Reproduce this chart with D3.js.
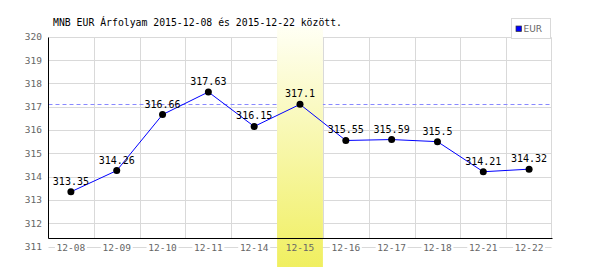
<!DOCTYPE html>
<html><head><meta charset="utf-8">
<script src="https://cdn.jsdelivr.net/npm/d3@7"></script>
<style>html,body{margin:0;padding:0;background:#fff;}svg{display:block;}</style>
</head><body>
<svg id="c" width="600" height="270"></svg>
<script>
const title = "MNB EUR Árfolyam 2015-12-08 és 2015-12-22 között.";
const categories = ["12-08","12-09","12-10","12-11","12-14","12-15","12-16","12-17","12-18","12-21","12-22"];
const values = [313.35,314.26,316.66,317.63,316.15,317.1,315.55,315.59,315.5,314.21,314.32];
const yTicks = [311,312,313,314,315,316,317,318,319,320];
const seriesName = "EUR";
const highlightCat = "12-15";
const refValue = 317.1;

const svg = d3.select("#c");
const mono = "'DejaVu Sans Mono', monospace";
const x = d3.scaleBand().domain(categories).range([48, 552]);
const y = d3.scaleLinear().domain([311, 320]).range([246.6, 36.7]);
const px = v => Math.round(v) + 0.5;
const plotTop = px(y(320)), plotBottom = 238.5, left = 48.5, right = 551.5;

const defs = svg.append("defs");
const g = defs.append("linearGradient").attr("id","hl").attr("x1",0).attr("y1",0).attr("x2",0).attr("y2",1);
g.append("stop").attr("offset","0%").attr("stop-color","#fffff4");
g.append("stop").attr("offset","100%").attr("stop-color","#f0ef60");

// grid
const grid = svg.append("g");
yTicks.filter(t => t > 311).forEach(t => {
  grid.append("line").attr("x1", left).attr("x2", right).attr("y1", px(y(t))).attr("y2", px(y(t)))
    .attr("stroke", "#d9d9d9");
});
categories.forEach((c, i) => {
  if (i === 0) return;
  grid.append("line").attr("x1", px(x(c))).attr("x2", px(x(c))).attr("y1", plotTop).attr("y2", plotBottom)
    .attr("stroke", "#d9d9d9");
});
grid.append("line").attr("x1", right).attr("x2", right).attr("y1", plotTop).attr("y2", plotBottom).attr("stroke","#d9d9d9");
// 311 line under labels
grid.append("line").attr("x1", left).attr("x2", right).attr("y1", px(y(311))).attr("y2", px(y(311))).attr("stroke","#d9d9d9");

// reference dashed line
svg.append("line").attr("x1", left).attr("x2", right).attr("y1", px(y(refValue))).attr("y2", px(y(refValue)))
  .attr("stroke", "#8888ff").attr("stroke-dasharray", "4,3");

// x label white backgrounds
const xl = svg.append("g");
categories.forEach(c => {
  const cx = x(c) + x.bandwidth()/2;
  xl.append("rect").attr("x", cx - 16).attr("y", 241).attr("width", 32).attr("height", 12).attr("fill", "#fff");
});

// highlight column
svg.append("rect").attr("x", x(highlightCat)).attr("y", 27).attr("width", x.bandwidth()).attr("height", 240)
  .attr("fill", "url(#hl)");

// x labels
categories.forEach(c => {
  const cx = x(c) + x.bandwidth()/2;
  svg.append("text").attr("x", cx).attr("y", 251).attr("text-anchor", "middle")
    .attr("font-family", mono).attr("font-size", 9.5).attr("fill", "#666").text(c);
});

// y labels
yTicks.forEach(t => {
  svg.append("text").attr("x", 42).attr("y", y(t) + 3.5).attr("text-anchor", "end")
    .attr("font-family", mono).attr("font-size", 9.5).attr("fill", "#666").text(t);
});

// axes
svg.append("line").attr("x1", left).attr("x2", left).attr("y1", plotTop).attr("y2", plotBottom).attr("stroke", "#000");
svg.append("line").attr("x1", left).attr("x2", right + 1).attr("y1", plotBottom).attr("y2", plotBottom).attr("stroke", "#000");

// data line
const pts = categories.map((c, i) => [x(c) + x.bandwidth()/2, y(values[i])]);
svg.append("path").attr("d", d3.line()(pts)).attr("fill", "none").attr("stroke", "#0000ff").attr("stroke-width", 1);
svg.append("g").selectAll("circle").data(pts).join("circle")
  .attr("cx", d => d[0]).attr("cy", d => d[1]).attr("r", 3.5).attr("fill", "#000");
svg.append("g").selectAll("text").data(values).join("text")
  .attr("x", (d, i) => pts[i][0]).attr("y", (d, i) => pts[i][1] - 7).attr("text-anchor", "middle")
  .attr("font-family", mono).attr("font-size", 10).attr("fill", "#000").text(d => d);

// title
svg.append("text").attr("x", 53).attr("y", 26).attr("font-family", mono).attr("font-size", 9.8)
  .attr("fill", "#000").text(title);

// legend
svg.append("rect").attr("x", 511.5).attr("y", 18.5).attr("width", 39).attr("height", 20)
  .attr("fill", "#fff").attr("stroke", "#d9d9d9");
svg.append("rect").attr("x", 516).attr("y", 26).attr("width", 5.5).attr("height", 5.5)
  .attr("fill", "#0000ff").attr("stroke", "#333").attr("stroke-width", 0.7);
svg.append("text").attr("x", 523.5).attr("y", 32).attr("font-family", "'DejaVu Sans', sans-serif")
  .attr("font-size", 9).attr("fill", "#666").text(seriesName);
</script>
</body></html>
